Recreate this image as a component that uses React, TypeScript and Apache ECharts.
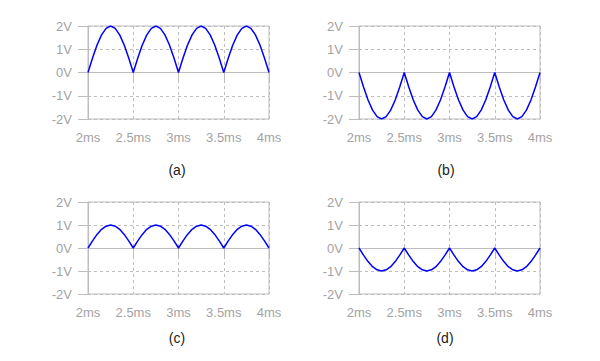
import React, { useEffect, useRef } from "react";
import * as echarts from "echarts";

const timeMs = [
  2.0, 2.05, 2.1, 2.15, 2.2, 2.25, 2.3, 2.35, 2.4, 2.45,
  2.5, 2.55, 2.6, 2.65, 2.7, 2.75, 2.8, 2.85, 2.9, 2.95,
  3.0, 3.05, 3.1, 3.15, 3.2, 3.25, 3.3, 3.35, 3.4, 3.45,
  3.5, 3.55, 3.6, 3.65, 3.7, 3.75, 3.8, 3.85, 3.9, 3.95, 4.0,
];

const seriesA = [
  0, 0.62, 1.18, 1.62, 1.9, 2, 1.9, 1.62, 1.18, 0.62,
  0, 0.62, 1.18, 1.62, 1.9, 2, 1.9, 1.62, 1.18, 0.62,
  0, 0.62, 1.18, 1.62, 1.9, 2, 1.9, 1.62, 1.18, 0.62,
  0, 0.62, 1.18, 1.62, 1.9, 2, 1.9, 1.62, 1.18, 0.62, 0,
];

const seriesB = [
  0, -0.62, -1.18, -1.62, -1.9, -2, -1.9, -1.62, -1.18, -0.62,
  0, -0.62, -1.18, -1.62, -1.9, -2, -1.9, -1.62, -1.18, -0.62,
  0, -0.62, -1.18, -1.62, -1.9, -2, -1.9, -1.62, -1.18, -0.62,
  0, -0.62, -1.18, -1.62, -1.9, -2, -1.9, -1.62, -1.18, -0.62, 0,
];

const seriesC = [
  0, 0.31, 0.59, 0.81, 0.95, 1, 0.95, 0.81, 0.59, 0.31,
  0, 0.31, 0.59, 0.81, 0.95, 1, 0.95, 0.81, 0.59, 0.31,
  0, 0.31, 0.59, 0.81, 0.95, 1, 0.95, 0.81, 0.59, 0.31,
  0, 0.31, 0.59, 0.81, 0.95, 1, 0.95, 0.81, 0.59, 0.31, 0,
];

const seriesD = [
  0, -0.31, -0.59, -0.81, -0.95, -1, -0.95, -0.81, -0.59, -0.31,
  0, -0.31, -0.59, -0.81, -0.95, -1, -0.95, -0.81, -0.59, -0.31,
  0, -0.31, -0.59, -0.81, -0.95, -1, -0.95, -0.81, -0.59, -0.31,
  0, -0.31, -0.59, -0.81, -0.95, -1, -0.95, -0.81, -0.59, -0.31, 0,
];

const panelLabels = ["(a)", "(b)", "(c)", "(d)"];
const allSeries = [seriesA, seriesB, seriesC, seriesD];

const AXIS_COLOR = "#bdbdbd";
const LABEL_COLOR = "#a3a3a3";
const FONT = "Liberation Sans, Arial, sans-serif";

export default function App() {
  const ref = useRef<HTMLDivElement>(null);

  useEffect(() => {
    if (!ref.current) return;
    const chart = echarts.init(ref.current, undefined, { renderer: "svg" });

    const grids = [
      { left: 88, top: 26, width: 181, height: 93 },
      { left: 359, top: 26, width: 181, height: 93 },
      { left: 88, top: 202, width: 181, height: 92 },
      { left: 359, top: 202, width: 181, height: 92 },
    ];
    const labelPos = [
      [177, 170],
      [446, 170],
      [177, 338],
      [445, 338],
    ];

    const option: any = {
      animation: false,
      backgroundColor: "#ffffff",
      grid: grids.map((g) => ({
        ...g,
        show: true,
        borderColor: AXIS_COLOR,
        borderWidth: 1,
        backgroundColor: "transparent",
      })),
      xAxis: grids.map((_, i) => ({
        type: "value",
        gridIndex: i,
        min: 2,
        max: 4,
        interval: 0.5,
        axisLine: { show: true, lineStyle: { color: AXIS_COLOR, width: 1 } },
        axisTick: { show: true, length: 10, inside: false, lineStyle: { color: AXIS_COLOR } },
        axisLabel: {
          margin: 12,
          color: LABEL_COLOR,
          fontSize: 13,
          fontFamily: FONT,
          formatter: (v: number) => `${v}ms`,
        },
        splitLine: { show: true, lineStyle: { color: AXIS_COLOR, type: [3, 3], width: 1 } },
      })),
      yAxis: grids.map((_, i) => ({
        type: "value",
        gridIndex: i,
        min: -2,
        max: 2,
        interval: 1,
        axisLine: { show: true, lineStyle: { color: AXIS_COLOR, width: 1 } },
        axisTick: { show: true, length: 10, inside: false, lineStyle: { color: AXIS_COLOR } },
        axisLabel: {
          margin: 16,
          color: LABEL_COLOR,
          fontSize: 13,
          fontFamily: FONT,
          formatter: (v: number) => `${v}V`,
        },
        splitLine: { show: true, lineStyle: { color: AXIS_COLOR, type: [3, 3], width: 1 } },
      })),
      series: allSeries.map((vals, i) => ({
        type: "line",
        xAxisIndex: i,
        yAxisIndex: i,
        data: timeMs.map((t, k) => [t, vals[k]]),
        showSymbol: false,
        symbol: "none",
        lineStyle: { color: "#0000ff", width: 1.5 },
        z: 5,
      })),
      graphic: panelLabels.map((txt, i) => ({
        type: "text",
        x: labelPos[i][0],
        y: labelPos[i][1],
        style: {
          text: txt,
          fill: "#222222",
          fontSize: 14,
          fontFamily: FONT,
          align: "center",
          verticalAlign: "middle",
        },
      })),
    };

    chart.setOption(option);
    return () => chart.dispose();
  }, []);

  return (
    <div
      ref={ref}
      style={{ position: "fixed", left: 0, top: 0, width: 600, height: 361 }}
    />
  );
}
